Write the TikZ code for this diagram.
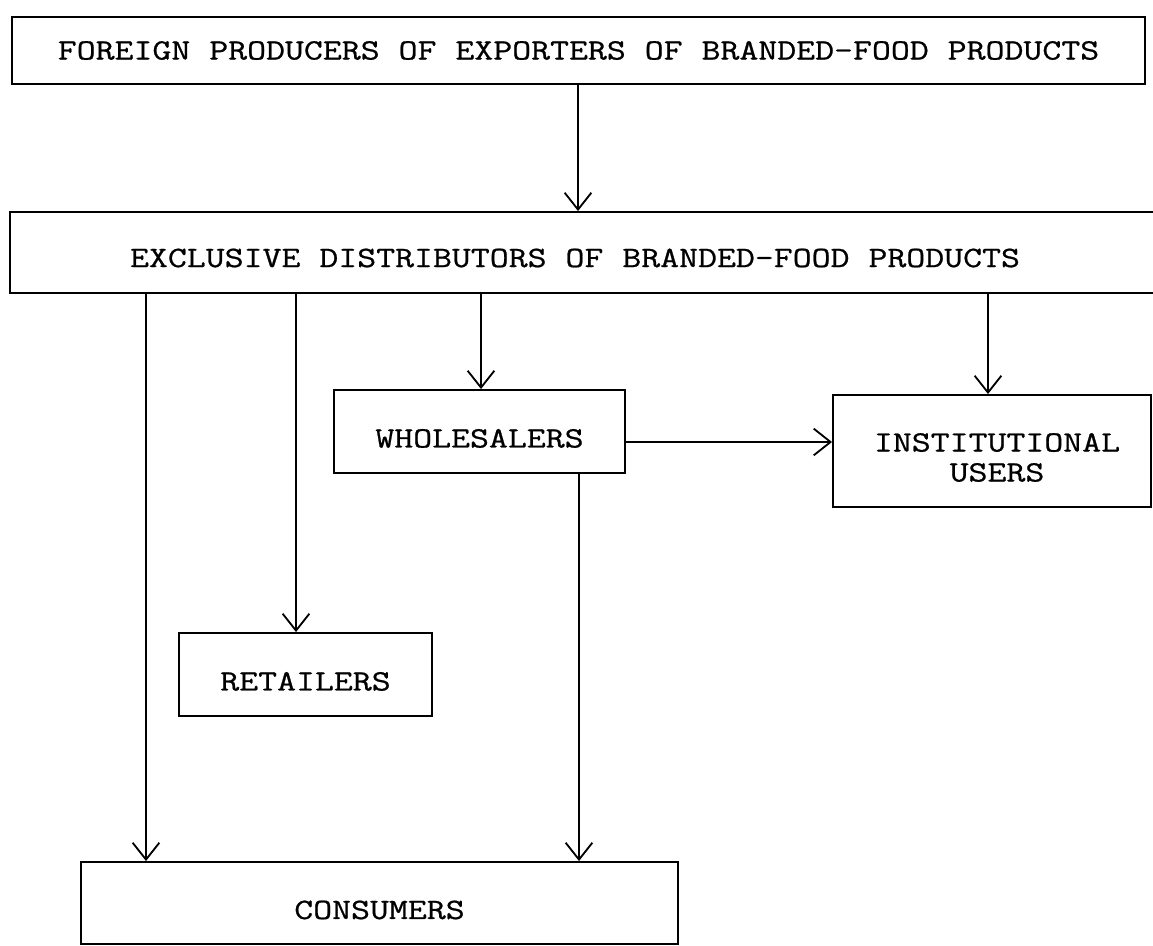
\documentclass[tikz,border=0pt]{standalone}
\usepackage{fontspec}
\newfontfamily\typew[FakeStretch=1.245,FakeBold=0.8]{Latin Modern Mono}
\usetikzlibrary{arrows.meta}

\begin{document}
\begin{tikzpicture}[x=0.025cm,y=0.025cm,
		box/.style={draw,line width=1.3pt,inner sep=0pt},
		drop/.style={text height=0.8cm,text depth=0pt},
		lbl/.style={font=\typew\fontsize{21}{21.3}\selectfont},
		flow/.style={-{Straight Barb[length=12pt,width=19pt]},line width=1.3pt}]
		\useasboundingbox (0,0) rectangle (1153,946);
		\clip (0,0) rectangle (1153,946);
		% Kaesten
		\node[box,lbl,minimum width=28.325cm,minimum height=1.675cm] (prod) at (578.5,895.5)
			{FOREIGN PRODUCERS OF EXPORTERS OF BRANDED-FOOD PRODUCTS};
		\node[box,minimum width=29.125cm,minimum height=2.025cm] (dist) at (592.5,693.5) {};
		\node[lbl] (distlbl) at (575,688) {EXCLUSIVE DISTRIBUTORS OF BRANDED-FOOD PRODUCTS};
		\node[box,lbl,drop,minimum width=7.275cm,minimum height=2.075cm] (whole) at (479.5,514.5) {WHOLESALERS};
		\node[box,minimum width=7.95cm,minimum height=2.8cm] (inst) at (992,495) {};
		\node[lbl,align=center] (instlbl) at (997,488.5) {INSTITUTIONAL\\USERS};
		\node[box,lbl,drop,minimum width=6.325cm,minimum height=2.075cm] (ret) at (305.5,271.5) {RETAILERS};
		\node[box,lbl,drop,minimum width=14.925cm,minimum height=2.05cm] (cons) at (379.5,43) {CONSUMERS};
		% Pfeile
		\coordinate (a1) at (146,0);
		\coordinate (a2) at (296,0);
		\coordinate (a3) at (481,0);
		\coordinate (a4) at (988,0);
		\coordinate (a5) at (579,0);
		\coordinate (a6) at (578,0);
		\coordinate (h1) at (0,504);
		\draw[flow] (prod.south -| a6) -- (dist.north -| a6);
		\draw[flow] (dist.south -| a1) -- (cons.north -| a1);
		\draw[flow] (dist.south -| a2) -- (ret.north -| a2);
		\draw[flow] (dist.south -| a3) -- (whole.north -| a3);
		\draw[flow] (dist.south -| a4) -- (inst.north -| a4);
		\draw[flow] (whole.east |- h1) -- (inst.west |- h1);
		\draw[flow] (whole.south -| a5) -- (cons.north -| a5);
	\end{tikzpicture}
\end{document}
